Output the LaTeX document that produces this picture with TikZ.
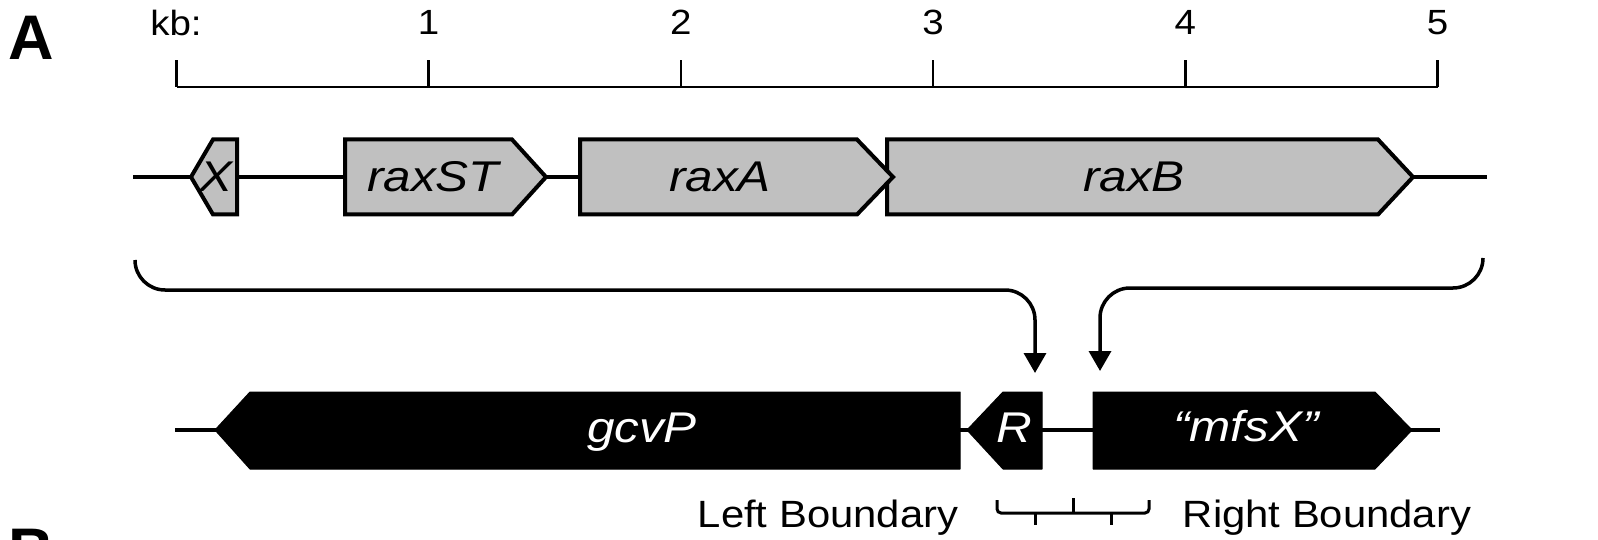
\documentclass[tikz,border=0pt]{standalone}
\usepackage{fontspec}
\setmainfont{Liberation Sans}
\newfontfamily\txtfont{Liberation Sans}[FakeStretch=1.1]
\newfontfamily\genefont{Liberation Sans}[FakeStretch=1.15]
\usetikzlibrary{arrows.meta}
\definecolor{genegray}{HTML}{C0C0C0}
\tikzset{
  axis/.style={line width=2.5pt},
  backbone/.style={line width=3.5pt},
  graygene/.style={draw=black, fill=genegray, line width=4pt, line join=miter},
  blackgene/.style={draw=black, fill=black, line width=1pt, line join=round},
  conn/.style={line width=3.5pt, rounded corners=30pt, -{Triangle[width=22pt,length=20pt]}},
  bracket/.style={line width=3pt, rounded corners=4pt},
  ticklbl/.style={font=\txtfont\fontsize{35}{40}\selectfont, anchor=base, inner sep=0pt},
  boundlbl/.style={font=\txtfont\fontsize{38}{44}\selectfont, anchor=base, inner sep=0pt},
  genelbl/.style={font=\genefont\itshape\fontsize{43}{48}\selectfont, anchor=base, inner sep=0pt},
  panel/.style={font=\bfseries\fontsize{63}{70}\selectfont, anchor=base, inner sep=0pt},
}
\begin{document}
\begin{tikzpicture}[x=1pt,y=-1pt]
\useasboundingbox (0,0) rectangle (1598,540);
\clip (0,0) rectangle (1598,540);

% panel letters
\node[panel] (pA) at (31,60) {A};
\node[panel] (pB) at (31,572) {B};

% scale bar
\foreach \i in {0,...,5}{
  \coordinate (t\i) at ({176.5+252.2*\i},87);
}
\draw[axis] (t0) -- (t5);
\foreach \i in {0,...,5}{
  \draw[axis] (t\i) -- ++(0,-27);
}
\node[ticklbl] (kb) at (176,36) {kb:};
\foreach \i in {1,...,5}{
  \path (t\i) ++(0,-52) node[ticklbl] (n\i) {\i};
}

% row 1 (gray genes)
\coordinate (b1l) at (133,177);
\coordinate (b1r) at (1487,177);
\draw[backbone] (b1l) -- (b1r);
\draw[graygene] (191,177) -- (213,139.5) -- (237,139.5) -- (237,214.5) -- (213,214.5) -- cycle;
\draw[graygene] (345,139.5) -- (512,139.5) -- (546,177) -- (512,214.5) -- (345,214.5) -- cycle;
\draw[graygene] (887,139.5) -- (1378,139.5) -- (1413,177) -- (1378,214.5) -- (887,214.5) -- cycle;
\draw[graygene] (580,139.5) -- (857,139.5) -- (893,177) -- (857,214.5) -- (580,214.5) -- cycle;
\node[genelbl] (gX) at (216,192) {X};
\node[genelbl] (gST) at (433,192) {raxST};
\node[genelbl] (gA) at (720,192) {raxA};
\node[genelbl] (gB) at (1134,192) {raxB};

% row 2 (black genes)
\coordinate (b2l) at (175,430);
\coordinate (b2r) at (1440,430);
\draw[backbone] (b2l) -- (b2r);
\draw[blackgene] (215,430) -- (250,392) -- (960,392) -- (960,469) -- (250,469) -- cycle;
\draw[blackgene] (967,430) -- (1003,392) -- (1042,392) -- (1042,469) -- (1003,469) -- cycle;
\draw[blackgene] (1093,392) -- (1375,392) -- (1412,430) -- (1375,469) -- (1093,469) -- cycle;
\node[genelbl, text=white] (gP) at (642,442) {gcvP};
\node[genelbl, text=white] (gR) at (1014,442) {R};
\node[genelbl, text=white] (gM) at (1246,441) {“mfsX”};

% connectors
\coordinate (cl0) at (135,260);
\coordinate (cl1) at (135,290);
\coordinate (cl2) at (1035,290);
\coordinate (cltip) at (1035,373);
\draw[conn] (cl0) -- (cl1) -- (cl2) -- (cltip);
\coordinate (cr0) at (1483,258);
\coordinate (cr1) at (1483,288);
\coordinate (cr2) at (1100,288);
\coordinate (crtip) at (1100,371);
\draw[conn] (cr0) -- (cr1) -- (cr2) -- (crtip);

% boundary brackets
\coordinate (k0) at (997,500);
\coordinate (k1) at (997,513);
\coordinate (k2) at (1149,513);
\coordinate (k3) at (1149,500);
\draw[bracket] (k0) -- (k1) -- (k2) -- (k3);
\draw[line width=3pt] (1073,513) -- (1073,498);
\draw[line width=3pt] (1035,513) -- (1035,525);
\draw[line width=3pt] (1111,513) -- (1111,525);

\node[boundlbl] (lb) at (828,527) {Left Boundary};
\node[boundlbl] (rb) at (1327,527) {Right Boundary};
\end{tikzpicture}
\end{document}
